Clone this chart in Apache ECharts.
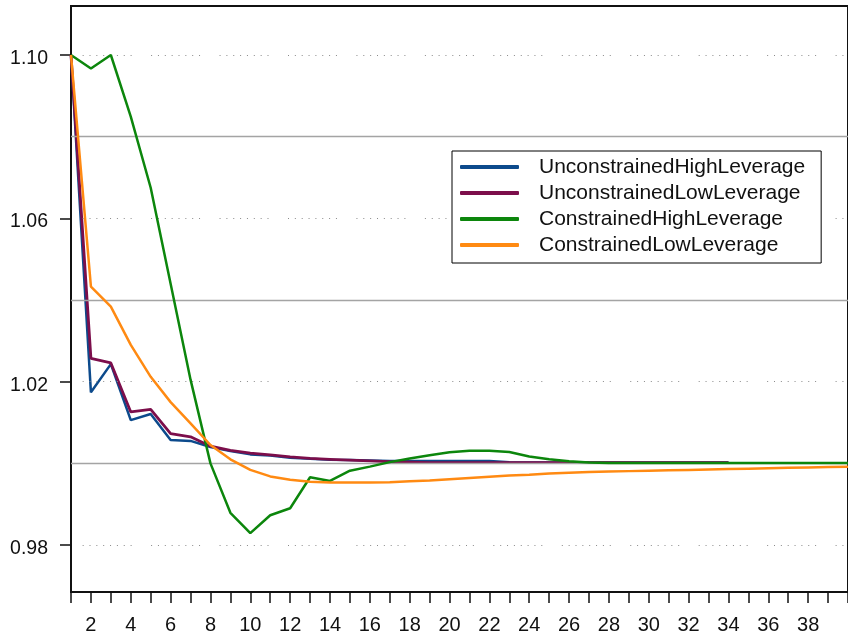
<!DOCTYPE html>
<html>
<head>
<meta charset="utf-8">
<script src="https://cdn.jsdelivr.net/npm/echarts@6/dist/echarts.min.js"></script>
<style>
  html, body { margin: 0; padding: 0; background: #fff; }
  #chart { width: 848px; height: 640px; }
</style>
</head>
<body>
<div id="chart"></div>
<script>
// Periods after the shock
const periods = ['1','2','3','4','5','6','7','8','9','10','11','12','13','14','15','16','17','18','19','20',
                 '21','22','23','24','25','26','27','28','29','30','31','32','33','34','35','36','37','38','39','40'];

const unconstrainedHigh = [1.1000, 1.0174, 1.0243, 1.0106, 1.0121, 1.0057, 1.0055, 1.0040, 1.0030, 1.0022,
                           1.0019, 1.0014, 1.0011, 1.0009, 1.0008, 1.0007, 1.0006, 1.0006, 1.0006, 1.0006,
                           1.0006, 1.0006, 1.0003, 1.0002, 1.0002, 1.0002, 1.0002, 1.0002, 1.0002, 1.0002,
                           1.0002, 1.0002, 1.0002, 1.0002];

const unconstrainedLow = [1.1000, 1.0257, 1.0246, 1.0126, 1.0132, 1.0073, 1.0065, 1.0042, 1.0032, 1.0025,
                          1.0021, 1.0016, 1.0012, 1.0010, 1.0008, 1.0006, 1.0004, 1.0003, 1.0002, 1.0002,
                          1.0002, 1.0002, 1.0002, 1.0002, 1.0002, 1.0002, 1.0002, 1.0002, 1.0002, 1.0002,
                          1.0002, 1.0002, 1.0002, 1.0002];

const constrainedHigh = [1.1000, 1.0967, 1.1000, 1.0849, 1.0675, 1.0440, 1.0205, 1.0000, 0.9879, 0.9829,
                         0.9873, 0.9890, 0.9966, 0.9957, 0.9982, 0.9992, 1.0003, 1.0012, 1.0020, 1.0027,
                         1.0031, 1.0031, 1.0028, 1.0017, 1.0010, 1.0005, 1.0002, 1.0001, 1.0001, 1.0001,
                         1.0001, 1.0001, 1.0001, 1.0001, 1.0001, 1.0001, 1.0001, 1.0001, 1.0001, 1.0001];

const constrainedLow = [1.1000, 1.0433, 1.0384, 1.0290, 1.0212, 1.0150, 1.0098, 1.0045, 1.0010, 0.9984,
                        0.9968, 0.9960, 0.9955, 0.9953, 0.9953, 0.9953, 0.9954, 0.9956, 0.9958, 0.9961,
                        0.9964, 0.9967, 0.9970, 0.9972, 0.9975, 0.9977, 0.9979, 0.9980, 0.9981, 0.9982,
                        0.9983, 0.9984, 0.9985, 0.9986, 0.9987, 0.9988, 0.9989, 0.9990, 0.9991, 0.9992];

const seriesNames = ['UnconstrainedHighLeverage', 'UnconstrainedLowLeverage',
                     'ConstrainedHighLeverage', 'ConstrainedLowLeverage'];
const seriesColors = ['#0c4a8c', '#7c0e4b', '#0c860c', '#ff8a12'];

const yTicks = [0.98, 1.02, 1.06, 1.10];       // labelled, dotted reference lines
const yRules = [1.00, 1.04, 1.08];             // solid reference lines

const FONT = '"Liberation Sans", Arial, sans-serif';

// dotted rule: groups of eight dots separated by a wider gap
const dotPattern = [];
for (let i = 0; i < 7; i++) dotPattern.push(1, 5.85);
dotPattern.push(1, 19.5);

const chart = echarts.init(document.getElementById('chart'), null, { renderer: 'canvas' });

const guideLines = [];
yTicks.forEach(v => guideLines.push({
  yAxis: v,
  lineStyle: { color: '#8a8a8a', width: 1, type: dotPattern, dashOffset: 56.8 }
}));
yRules.forEach(v => guideLines.push({
  yAxis: v,
  lineStyle: { color: '#a4a4a4', width: 1.3, type: 'solid' }
}));

const lineSeries = [unconstrainedHigh, unconstrainedLow, constrainedHigh, constrainedLow].map((vals, i) => ({
  name: seriesNames[i],
  type: 'line',
  data: vals,
  showSymbol: false,
  symbol: 'none',
  z: 3 + i,
  lineStyle: { color: seriesColors[i], width: i === 1 ? 2.8 : 2.5 },
  itemStyle: { color: seriesColors[i] },
  animation: false
}));

chart.setOption({
  animation: false,
  backgroundColor: '#fff',
  grid: {
    left: 71, top: 6, width: 789, height: 586,
    show: true, borderColor: '#111', borderWidth: 2, backgroundColor: 'transparent'
  },
  legend: {
    orient: 'vertical',
    left: 452, top: 151,
    z: 50,
    padding: [5, 16, 7, 8],
    itemWidth: 59, itemHeight: 4, itemGap: 4,
    icon: 'roundRect',
    backgroundColor: '#fff',
    borderColor: '#000', borderWidth: 1,
    data: seriesNames,
    textStyle: { fontFamily: FONT, fontSize: 21, lineHeight: 22, color: '#111', padding: [0, 0, 0, 15] }
  },
  xAxis: {
    type: 'category',
    data: periods,
    boundaryGap: false,
    axisLine: { show: false },
    axisTick: { show: true, interval: 0, length: 11, lineStyle: { color: '#111', width: 1.5 } },
    axisLabel: {
      interval: (idx, val) => Number(val) % 2 === 0 && Number(val) < 40,
      margin: 23, fontFamily: FONT, fontSize: 20, color: '#111'
    },
    splitLine: { show: false }
  },
  yAxis: {
    type: 'value',
    min: 0.9685, max: 1.112,
    axisLine: { show: false },
    axisTick: { show: true, customValues: yTicks, length: 11, lineStyle: { color: '#111', width: 1.5 } },
    axisLabel: {
      customValues: yTicks, margin: 23,
      formatter: v => '{v|' + v.toFixed(2) + '}',
      rich: { v: { fontFamily: FONT, fontSize: 19.5, color: '#111', padding: [7, 0, 0, 0] } },
      fontFamily: FONT, fontSize: 19.5, color: '#111'
    },
    splitLine: { show: false }
  },
  series: [{
    name: 'guides',
    type: 'line',
    data: periods.map(() => null),
    z: 1,
    silent: true,
    markLine: {
      silent: true,
      symbol: ['none', 'none'],
      label: { show: false },
      animation: false,
      data: guideLines
    }
  }].concat(lineSeries)
});
</script>
</body>
</html>
